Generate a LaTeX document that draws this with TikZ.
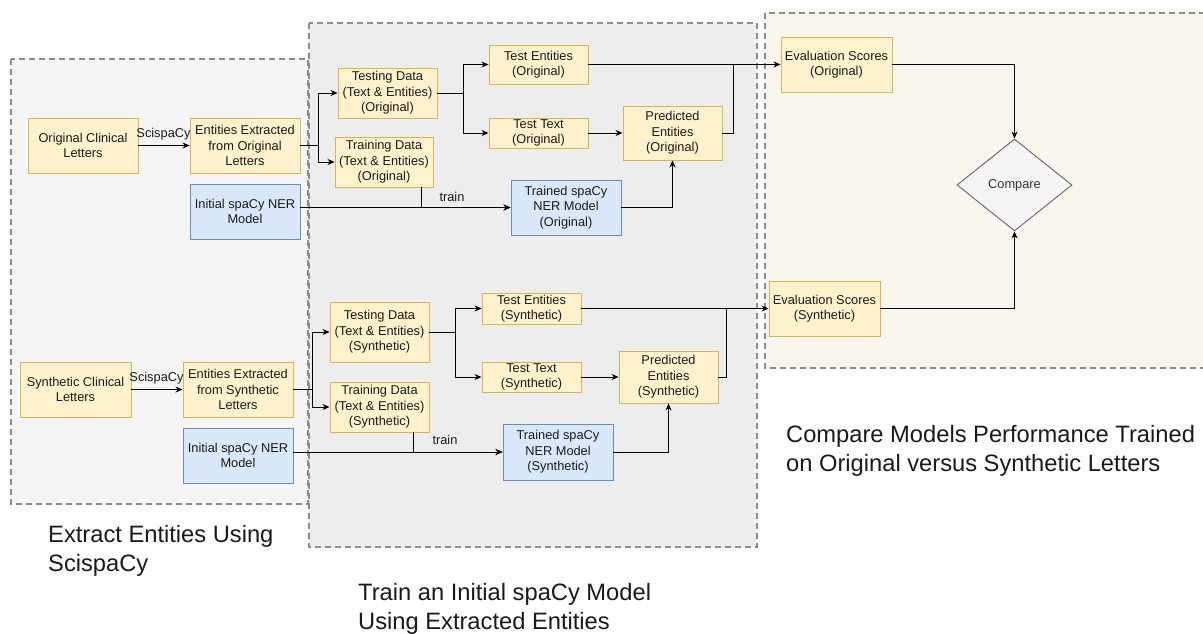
\documentclass[tikz,border=0pt]{standalone}
\usepackage{fontspec}
\setmainfont{Liberation Sans}
\usetikzlibrary{arrows.meta,shapes.geometric}
\definecolor{yfill}{HTML}{FFF2CC}
\definecolor{ydraw}{HTML}{D6B656}
\definecolor{bfill}{HTML}{DAE8FC}
\definecolor{bdraw}{HTML}{6C8EBF}
\definecolor{gfill}{HTML}{F5F5F5}
\definecolor{gdraw}{HTML}{666666}
\definecolor{mfill}{HTML}{EDEDED}
\definecolor{cfill}{HTML}{F9F7ED}
\definecolor{bord}{HTML}{8C8C8C}
\definecolor{txt}{HTML}{1A1A1A}
\definecolor{ctxt}{HTML}{333333}
\tikzset{
  nfont/.style={font=\fontsize{12.8}{15.5}\selectfont, text=txt},
  ybox/.style={nfont, draw=ydraw, fill=yfill, line width=0.9pt, align=center, inner sep=0pt, rectangle},
  bbox/.style={nfont, draw=bdraw, fill=bfill, line width=0.9pt, align=center, inner sep=0pt, rectangle},
  cmpbox/.style={nfont, text=ctxt, draw=gdraw, fill=gfill, line width=0.9pt, diamond, inner sep=0pt, minimum width=115pt, minimum height=92pt},
  cont/.style={draw=bord, line width=1.1pt, dash pattern=on 6pt off 4pt},
  arr/.style={draw=black, line width=0.9pt, -{Stealth[length=7pt,width=6pt]}},
  ln/.style={draw=black, line width=0.9pt},
  elabel/.style={nfont, inner sep=0pt},
  biglabel/.style={font=\fontsize{23.7}{29}\selectfont, text=txt, align=left, anchor=north west, inner sep=0pt},
}
\begin{document}
\begin{tikzpicture}[x=1pt,y=-1pt]
\useasboundingbox (0,0) rectangle (1203,634);
\fill[white] (0,0) rectangle (1203,634);
% containers
\path[cont, fill=gfill] (11,59) rectangle (308,504);
\path[cont, fill=mfill] (309,23) rectangle (757,547);
\path[cont, fill=cfill] (765,13) rectangle (1215,368);
% container labels
\node[biglabel] (lab1) at (48,525) {Extract Entities Using\\ScispaCy};
\node[biglabel] (lab2) at (358,583) {Train an Initial spaCy Model\\Using Extracted Entities};
\node[biglabel] (lab3) at (786,425) {Compare Models Performance Trained\\on Original versus Synthetic Letters};

% ---------- top (Original) ----------
\node[ybox, minimum width=110pt, minimum height=55pt] (ocl) at (83,145.5) {Original Clinical\\Letters};
\node[ybox, minimum width=110pt, minimum height=55pt] (eeo) at (245,145.5) {Entities Extracted\\from Original\\Letters};
\node[bbox, minimum width=110pt, minimum height=55pt] (ini1) at (245,211.5) {Initial spaCy NER\\Model};
\node[ybox, minimum width=99pt, minimum height=50pt] (tdo) at (387.5,93) {Testing Data\\(Text \& Entities)\\(Original)};
\node[ybox, minimum width=98pt, minimum height=50pt] (trdo) at (384,162) {Training Data\\(Text \& Entities)\\(Original)};
\node[ybox, minimum width=99pt, minimum height=39pt] (teo) at (538.5,64.5) {Test Entities\\(Original)};
\node[ybox, minimum width=99pt, minimum height=30pt] (tto) at (538.5,133) {Test Text\\(Original)};
\node[ybox, minimum width=99pt, minimum height=54pt] (peo) at (672.5,133) {Predicted\\Entities\\(Original)};
\node[bbox, minimum width=110pt, minimum height=55pt] (tro) at (566,207.5) {Trained spaCy\\NER Model\\(Original)};
\node[ybox, minimum width=111pt, minimum height=55pt] (eso) at (836.5,64.5) {Evaluation Scores\\(Original)};
\node[cmpbox] (cmp) at (1014.5,185) {Compare};
\node[ybox, minimum width=111pt, minimum height=55pt] (ess) at (824.5,308.5) {Evaluation Scores\\(Synthetic)};

% ---------- bottom (Synthetic) ----------
\node[ybox, minimum width=111pt, minimum height=55pt] (scl) at (75.5,389.5) {Synthetic Clinical\\Letters};
\node[ybox, minimum width=110pt, minimum height=55pt] (ees) at (238,389.5) {Entities Extracted\\from Synthetic\\Letters};
\node[bbox, minimum width=110pt, minimum height=55pt] (ini2) at (238,455.5) {Initial spaCy NER\\Model};
\node[ybox, minimum width=99pt, minimum height=60pt] (tds) at (379.5,332) {Testing Data\\(Text \& Entities)\\(Synthetic)};
\node[ybox, minimum width=99pt, minimum height=50pt] (trds) at (379.5,407) {Training Data\\(Text \& Entities)\\(Synthetic)};
\node[ybox, minimum width=99pt, minimum height=31pt] (tes) at (531.5,308.5) {Test Entities\\(Synthetic)};
\node[ybox, minimum width=99pt, minimum height=30pt] (tts) at (531.5,377) {Test Text\\(Synthetic)};
\node[ybox, minimum width=99pt, minimum height=52pt] (pes) at (668.5,377) {Predicted\\Entities\\(Synthetic)};
\node[bbox, minimum width=110pt, minimum height=56pt] (trs) at (558,452) {Trained spaCy\\NER Model\\(Synthetic)};

% junction coordinates
\coordinate (j1) at (733,64.5);
\coordinate (j2) at (726,308.5);

% ---------- edges top ----------
\draw[arr] (ocl.east) -- (eeo.west);
\node[elabel] (sc1) at (163.5,134) {ScispaCy};
\draw[arr] (eeo.east) -- ++(18,0) |- (tdo.west);
\draw[arr] (eeo.east) -- ++(18,0) |- (trdo.west);
\draw[arr] (tdo.east) -- ++(26,0) |- (teo.west);
\draw[arr] (tdo.east) -- ++(26,0) |- (tto.west);
\draw[arr] (tto.east) -- (peo.west);
\draw[arr] (ini1.east |- tro.west) -- (tro.west);
\draw[arr] ([xshift=37pt]trdo.south) |- (tro.west);
\node[elabel] (tr1) at (452,197) {train};
\draw[arr] (tro.east) -| (peo.south);
\draw[arr] (teo.east) -- (eso.west);
\draw[ln] (peo.east) -| (j1);
\draw[arr] (eso.east) -| (cmp.north);
\draw[arr] (ess.east) -| (cmp.south);

% ---------- edges bottom ----------
\draw[arr] (scl.east) -- (ees.west);
\node[elabel] (sc2) at (156.5,378) {ScispaCy};
\draw[arr] (ees.east) -- ++(19,0) |- (tds.west);
\draw[arr] (ees.east) -- ++(19,0) |- (trds.west);
\draw[arr] (tds.east) -- ++(26,0) |- (tes.west);
\draw[arr] (tds.east) -- ++(26,0) |- (tts.west);
\draw[arr] (tts.east) -- (pes.west);
\draw[arr] (ini2.east |- trs.west) -- (trs.west);
\draw[arr] ([xshift=33.5pt]trds.south) |- (trs.west);
\node[elabel] (tr2) at (445,440) {train};
\draw[arr] (trs.east) -| (pes.south);
\draw[arr] (tes.east) -- (ess.west);
\draw[ln] (pes.east) -| (j2);
\end{tikzpicture}
\end{document}
